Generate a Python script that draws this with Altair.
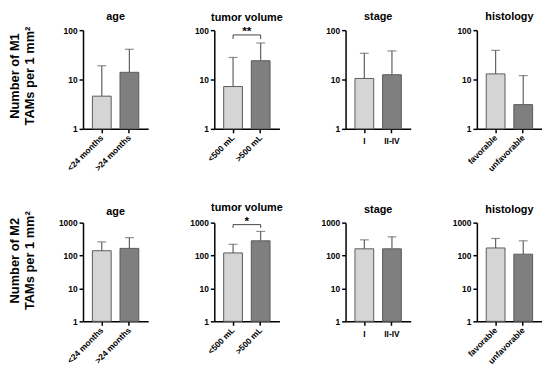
import altair as alt
import pandas as pd

FONT = "Liberation Sans"

panel_titles = ["age", "tumor volume", "stage", "histology"]
categories = [["<24 months", ">24 months"], ["<500 mL", ">500 mL"], ["I", "II-IV"], ["favorable", "unfavorable"]]
row_labels = [["Number of M1", "TAMs per 1 mm²"], ["Number of M2", "TAMs per 1 mm²"]]
y_tops = [100, 1000]
y_ticks = [[1, 10, 100], [1, 10, 100, 1000]]

m1_means = [4.6, 14, 7.2, 24, 10.5, 12.5, 13, 3.1]
m1_upper = [19, 41, 28, 55, 34, 38, 39, 12]
m2_means = [140, 165, 120, 280, 160, 160, 170, 110]
m2_upper = [260, 350, 220, 540, 300, 370, 330, 280]

# significance brackets
sig_rows = [0, 1]
sig_panels = [1, 1]
sig_labels = ["**", "*"]
sig_top = [80, 870]
sig_low = [66, 690]

means = [m1_means, m2_means]
uppers = [m1_upper, m2_upper]
bar_colors = ["#d5d5d5", "#7f7f7f"]
label_centers = [46, 38]

H = 100
# title offsets (compensating for elements that stick out above the plot)
title_offsets = [[4, 2, 4, 4], [-6, 2, 4, 4]]


def make_panel(r, j):
    cats = categories[j]
    df = pd.DataFrame({
        "cat": cats,
        "mean": means[r][2 * j:2 * j + 2],
        "upper": uppers[r][2 * j:2 * j + 2],
    })
    rotated = j != 2
    xaxis = alt.Axis(
        title=None, labelAngle=-45 if rotated else 0,
        labelAlign="right" if rotated else "center",
        labelBaseline="middle" if rotated else "top",
        labelFont=FONT, labelFontSize=8.5, labelFontWeight="bold", labelColor="black",
        domainColor="black", domainWidth=1.5, tickColor="black", tickWidth=1.5, tickSize=4,
        labelPadding=3 if rotated else 4,
    )
    ytitle = row_labels[r] if j == 0 else None
    yaxis = alt.Axis(
        title=ytitle, values=y_ticks[r], format="d",
        labelFont=FONT, labelFontSize=8.5, labelFontWeight="bold", labelColor="black",
        domainColor="black", domainWidth=1.5, tickColor="black", tickWidth=1.5, tickSize=4,
        grid=False, labelPadding=2,
        titleFont=FONT, titleFontSize=13, titleFontWeight="bold", titleColor="black",
        titleAngle=270, titleX=-75, titleY=label_centers[r], titleAlign="center", titleBaseline="top",
        titleLineHeight=15,
    )
    xenc = alt.X("cat:N", sort=cats, scale=alt.Scale(paddingInner=0.32, paddingOuter=0.34), axis=xaxis)
    yscale = alt.Scale(type="log", domain=[1, y_tops[r]])
    base = alt.Chart(df)
    bars = base.mark_bar(stroke="#5a5a5a", strokeWidth=1).encode(
        x=xenc,
        y=alt.Y("mean:Q", scale=yscale, axis=yaxis),
        y2=alt.datum(1),
        color=alt.Color("cat:N", scale=alt.Scale(domain=cats, range=bar_colors), legend=None),
    )
    err = base.mark_rule(color="#606060", strokeWidth=1.2).encode(
        x=alt.X("cat:N", sort=cats), y=alt.Y("mean:Q"), y2="upper:Q")
    cap = base.mark_tick(color="#606060", thickness=1.2, size=9).encode(
        x=alt.X("cat:N", sort=cats), y=alt.Y("upper:Q"))
    layers = [err, cap, bars]
    for k in range(len(sig_rows)):
        if sig_rows[k] == r and sig_panels[k] == j:
            hd = pd.DataFrame({"a": [cats[0]], "b": [cats[1]], "top": [sig_top[k]], "lbl": [sig_labels[k]]})
            vd = pd.DataFrame({"cat": cats, "top": [sig_top[k]] * 2, "low": [sig_low[k]] * 2})
            h = alt.Chart(hd).mark_rule(color="#444444", strokeWidth=1).encode(
                x=alt.X("a:N", sort=cats), x2="b", y="top:Q")
            v = alt.Chart(vd).mark_rule(color="#444444", strokeWidth=1).encode(
                x=alt.X("cat:N", sort=cats), y="top:Q", y2="low:Q")
            t = alt.Chart(hd).mark_text(font=FONT, fontSize=12, fontWeight="bold", baseline="bottom",
                                        dx=-14, dy=3, color="black").encode(
                x=alt.X("b:N", sort=cats), y="top:Q", text="lbl:N")
            layers += [h, v, t]
    return alt.layer(*layers).properties(
        width=66, height=H,
        title=alt.TitleParams(panel_titles[j], font=FONT, fontSize=11, fontWeight="bold",
                              color="black", offset=title_offsets[r][j], anchor="middle", frame="group"),
    )


panels = [make_panel(r, j) for r in range(2) for j in range(4)]
chart = alt.concat(*panels, columns=4, spacing={"row": 95, "column": 67}, bounds="flush").properties(
    padding={"left": 1, "top": 0, "right": 0, "bottom": 14}
).configure_view(stroke=None)

chart.save("out.html", embed_options={"renderer": "svg", "actions": False})
